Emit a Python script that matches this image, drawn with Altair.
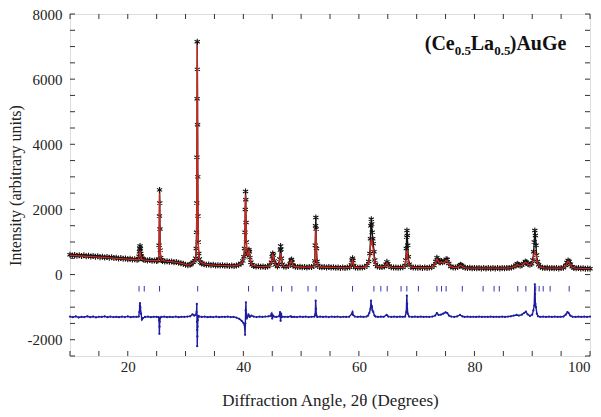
import altair as alt
import pandas as pd

# ---------------- data ----------------
obs_points = [
    (10.0, 610), (10.4, 585), (10.8, 600), (11.2, 575), (11.6, 595), (12.0, 570), (12.4, 590),
    (12.8, 560), (13.2, 580), (13.6, 555), (14.0, 570), (14.4, 545), (14.8, 560), (15.2, 535),
    (15.6, 550), (16.0, 525), (16.4, 540), (16.8, 515), (17.2, 530), (17.6, 505), (18.0, 520),
    (18.4, 495), (18.8, 505), (19.2, 485), (19.6, 495), (20.0, 470), (20.4, 485), (20.8, 460),
    (21.2, 470), (21.6, 455),
    (21.8, 470), (21.95, 560), (22.02, 700), (22.08, 820), (22.12, 880), (22.18, 790),
    (22.25, 650), (22.35, 560), (22.5, 500), (22.7, 460),
    (23.0, 450), (23.4, 435), (23.8, 445), (24.2, 425), (24.6, 435), (25.0, 420), (25.2, 430),
    (25.35, 480), (25.42, 900), (25.47, 1800), (25.5, 2600), (25.53, 2200), (25.57, 1400),
    (25.62, 750), (25.7, 520), (25.85, 450),
    (26.0, 420), (26.4, 400), (26.8, 410), (27.2, 390), (27.6, 400), (28.0, 375), (28.4, 385),
    (28.8, 360), (29.2, 345), (29.6, 330), (30.0, 300), (30.4, 290), (30.8, 300), (31.0, 330),
    (31.3, 380), (31.6, 420),
    (31.75, 500), (31.85, 800), (31.9, 1300), (31.94, 2200), (31.97, 3600), (32.0, 5400),
    (32.02, 7150), (32.05, 6300), (32.08, 4600), (32.11, 3000), (32.15, 1800), (32.2, 1000),
    (32.28, 650), (32.4, 480), (32.6, 380),
    (32.8, 340), (33.2, 320), (33.6, 300), (34.0, 310), (34.4, 290), (34.8, 300), (35.2, 280),
    (35.6, 290), (36.0, 275), (36.4, 285), (36.8, 270), (37.2, 280), (37.6, 265), (38.0, 275),
    (38.4, 265), (38.8, 280), (39.2, 300), (39.6, 340), (39.9, 420),
    (40.1, 550), (40.2, 800), (40.28, 1300), (40.34, 2000), (40.38, 2550), (40.42, 2300),
    (40.47, 1600), (40.53, 1000), (40.6, 700), (40.7, 620), (40.8, 650), (40.9, 720),
    (40.97, 760), (41.05, 700), (41.15, 520), (41.3, 380), (41.5, 300),
    (41.8, 260), (42.2, 245), (42.6, 255), (43.0, 240), (43.4, 250), (43.8, 235), (44.2, 250),
    (44.6, 290),
    (44.85, 380), (45.0, 550), (45.1, 650), (45.2, 600), (45.35, 420), (45.6, 300),
    (45.9, 250), (46.1, 300),
    (46.3, 480), (46.4, 750), (46.45, 880), (46.5, 780), (46.6, 500), (46.75, 320),
    (47.0, 250), (47.4, 240), (47.8, 260),
    (48.1, 330), (48.25, 440), (48.35, 460), (48.45, 380), (48.6, 280),
    (49.0, 240), (49.4, 230), (49.8, 240), (50.2, 225), (50.6, 235), (51.0, 220), (51.4, 235),
    (51.8, 230), (52.2, 260),
    (52.35, 420), (52.45, 900), (52.5, 1500), (52.55, 1750), (52.6, 1400), (52.66, 800),
    (52.75, 400), (52.9, 280),
    (53.2, 235), (53.6, 225), (54.0, 235), (54.4, 220), (54.8, 230), (55.2, 215), (55.6, 225),
    (56.0, 210), (56.4, 220), (56.8, 205), (57.2, 215), (57.6, 205), (58.0, 215), (58.4, 225),
    (58.7, 300), (58.82, 450), (58.9, 500), (58.98, 430), (59.1, 280),
    (59.4, 220), (59.8, 210), (60.2, 220), (60.6, 215), (61.0, 230), (61.4, 280), (61.7, 400),
    (61.9, 650), (62.0, 1100), (62.08, 1500), (62.15, 1700), (62.22, 1550), (62.3, 1300),
    (62.4, 1100), (62.5, 950), (62.6, 700), (62.75, 450), (62.9, 320),
    (63.2, 250), (63.6, 230), (64.0, 235), (64.4, 250),
    (64.7, 320), (64.85, 390), (65.0, 330), (65.2, 260),
    (65.6, 225), (66.0, 215), (66.4, 220), (66.8, 210), (67.2, 220), (67.6, 225), (68.0, 280),
    (68.1, 450), (68.2, 800), (68.26, 1150), (68.32, 1350), (68.38, 1200), (68.45, 900),
    (68.55, 550), (68.7, 320),
    (69.0, 230), (69.4, 215), (69.8, 220), (70.2, 210), (70.6, 215), (71.0, 205), (71.4, 215),
    (71.8, 205), (72.2, 215), (72.6, 225), (73.0, 280),
    (73.3, 400), (73.5, 520), (73.7, 460), (73.9, 380), (74.1, 380), (74.3, 420), (74.5, 380),
    (74.8, 400), (75.1, 470), (75.3, 460), (75.55, 340), (75.9, 250),
    (76.3, 220), (76.7, 215), (77.1, 230),
    (77.4, 270), (77.6, 300), (77.8, 280), (78.0, 240),
    (78.4, 210), (78.8, 200), (79.2, 210), (79.6, 195), (80.0, 205), (80.4, 195), (80.8, 205),
    (81.2, 190), (81.6, 200), (82.0, 190), (82.4, 200), (82.8, 190), (83.2, 200), (83.6, 190),
    (84.0, 200), (84.4, 190), (84.8, 200), (85.2, 195), (85.6, 205), (86.0, 200), (86.4, 215),
    (86.8, 240),
    (87.2, 290), (87.4, 330), (87.6, 300), (87.9, 270), (88.2, 290), (88.5, 340), (88.8, 400),
    (89.0, 380), (89.3, 320), (89.6, 300), (89.9, 330), (90.1, 450), (90.25, 700),
    (90.35, 1000), (90.45, 1350), (90.55, 1200), (90.65, 900), (90.75, 600), (90.9, 400),
    (91.1, 300), (91.4, 240),
    (91.8, 210), (92.2, 200), (92.6, 210), (93.0, 195), (93.4, 205), (93.8, 195), (94.2, 200),
    (94.6, 190), (95.0, 200), (95.4, 210), (95.8, 280),
    (96.0, 370), (96.2, 430), (96.4, 400), (96.6, 320), (96.9, 240),
    (97.2, 205), (97.6, 195), (98.0, 200), (98.4, 185), (98.8, 195), (99.2, 180), (99.6, 190),
    (100.0, 180),
]

calc_points = [
    (10, 590), (11, 580), (12, 570), (13, 560), (14, 550), (15, 538), (16, 525), (17, 512),
    (18, 500), (19, 487), (20, 475), (21, 462), (21.6, 455),
    (21.8, 455), (21.95, 520), (22.02, 600), (22.08, 680), (22.12, 700), (22.18, 660),
    (22.25, 580), (22.35, 520), (22.5, 470), (22.7, 450),
    (23.5, 438), (24.5, 428), (25.2, 425),
    (25.35, 470), (25.42, 1000), (25.47, 2000), (25.5, 2500), (25.53, 2350), (25.57, 1500),
    (25.62, 800), (25.7, 510), (25.85, 440),
    (26.5, 410), (27.5, 395), (28.5, 375), (29.5, 335), (30.2, 295), (30.8, 305), (31.3, 370),
    (31.6, 410),
    (31.75, 480), (31.85, 750), (31.9, 1200), (31.94, 2300), (31.97, 3900), (32.0, 5800),
    (32.02, 7050), (32.05, 6500), (32.08, 5100), (32.11, 3200), (32.15, 1800), (32.2, 950),
    (32.28, 620), (32.4, 470), (32.6, 380),
    (33.2, 325), (34, 305), (35, 290), (36, 280), (37, 275), (38, 270), (38.8, 278),
    (39.4, 310), (39.9, 400),
    (40.1, 520), (40.2, 780), (40.28, 1400), (40.34, 2200), (40.38, 2450), (40.42, 2350),
    (40.47, 1700), (40.53, 1050), (40.6, 700), (40.7, 600), (40.8, 620), (40.9, 690),
    (40.97, 740), (41.05, 690), (41.15, 510), (41.3, 370), (41.5, 290),
    (42.5, 250), (43.5, 242), (44.4, 260), (44.6, 285),
    (44.85, 370), (45.0, 560), (45.1, 620), (45.2, 580), (45.35, 400), (45.6, 290),
    (45.9, 255), (46.1, 290),
    (46.3, 450), (46.4, 620), (46.45, 660), (46.5, 620), (46.6, 460), (46.75, 310),
    (47.0, 250), (47.6, 245), (47.9, 260),
    (48.1, 320), (48.25, 420), (48.35, 430), (48.45, 360), (48.6, 270),
    (49.0, 240), (50, 232), (51, 227), (51.8, 232), (52.2, 255),
    (52.35, 400), (52.45, 850), (52.5, 1300), (52.55, 1400), (52.6, 1250), (52.66, 750),
    (52.75, 380), (52.9, 270),
    (53.4, 232), (54.5, 225), (55.5, 218), (56.5, 212), (57.5, 210), (58.3, 220), (58.5, 240),
    (58.7, 290), (58.82, 400), (58.9, 440), (58.98, 390), (59.1, 270),
    (59.4, 225), (60.2, 215), (61.0, 225), (61.4, 270), (61.7, 380),
    (61.9, 550), (62.0, 850), (62.08, 1000), (62.15, 1080), (62.22, 1050), (62.3, 950),
    (62.4, 850), (62.5, 750), (62.6, 580), (62.75, 400), (62.9, 300),
    (63.2, 250), (63.8, 232), (64.4, 250),
    (64.7, 300), (64.85, 360), (65.0, 310), (65.2, 250),
    (65.8, 220), (66.8, 213), (67.6, 222), (68.0, 270),
    (68.1, 400), (68.2, 600), (68.26, 700), (68.32, 720), (68.38, 680), (68.45, 560),
    (68.55, 420), (68.7, 290),
    (69.0, 232), (70, 215), (71, 210), (72, 210), (72.6, 222), (73.0, 270),
    (73.3, 380), (73.5, 480), (73.7, 430), (73.9, 360), (74.1, 360), (74.3, 390), (74.5, 360),
    (74.8, 380), (75.1, 440), (75.3, 430), (75.55, 320), (75.9, 240),
    (76.5, 218), (77.1, 228),
    (77.4, 260), (77.6, 285), (77.8, 265), (78.0, 230),
    (78.5, 207), (80, 200), (82, 196), (84, 195), (85.5, 200), (86.4, 212), (86.8, 235),
    (87.2, 280), (87.4, 320), (87.6, 290), (87.9, 260), (88.2, 280), (88.5, 330), (88.8, 380),
    (89.0, 360), (89.3, 310), (89.6, 290), (89.9, 320), (90.1, 420), (90.25, 560),
    (90.35, 650), (90.45, 700), (90.55, 680), (90.65, 600), (90.75, 480), (90.9, 360),
    (91.1, 290), (91.4, 230),
    (92, 205), (93.5, 198), (95, 198), (95.4, 208), (95.8, 270),
    (96.0, 350), (96.2, 410), (96.4, 380), (96.6, 300), (96.9, 230),
    (97.5, 200), (98.5, 190), (100, 183),
]

diff_points = [
    (10.0, -1290), (10.5, -1310), (11, -1285), (11.5, -1315), (12, -1295), (12.5, -1305),
    (13, -1280), (13.5, -1310), (14, -1290), (14.5, -1315), (15, -1295), (15.5, -1300),
    (16, -1285), (16.5, -1310), (17, -1290), (17.5, -1305), (18, -1295), (18.5, -1310),
    (19, -1290), (19.5, -1305), (20, -1285), (20.5, -1310), (21, -1295), (21.5, -1300),
    (21.9, -1290), (22.0, -1150), (22.08, -950), (22.12, -880), (22.18, -1000), (22.3, -1200),
    (22.45, -1380), (22.6, -1340), (23.0, -1300), (23.5, -1290), (24, -1310), (24.5, -1295),
    (25.0, -1300), (25.35, -1310), (25.42, -1400), (25.47, -1820), (25.5, -1600),
    (25.53, -1450), (25.6, -1330), (25.8, -1300), (26.3, -1290), (26.8, -1310), (27.3, -1295),
    (27.8, -1305), (28.3, -1290), (28.8, -1310), (29.3, -1295), (29.8, -1300), (30.3, -1290),
    (30.8, -1280), (31.2, -1220), (31.5, -1260), (31.8, -1230), (31.9, -1150), (31.95, -900),
    (31.98, -1450), (32.0, -1700), (32.02, -2200), (32.05, -1900), (32.08, -1600),
    (32.12, -1400), (32.2, -1270), (32.4, -1290), (32.8, -1300), (33.3, -1290), (33.8, -1310),
    (34.3, -1295), (34.8, -1305), (35.3, -1290), (35.8, -1310), (36.3, -1295), (36.8, -1300),
    (37.3, -1290), (37.8, -1305), (38.3, -1300), (38.8, -1320), (39.3, -1360), (39.7, -1420),
    (40.0, -1480), (40.2, -1550), (40.3, -1850), (40.35, -1500), (40.4, -1100), (40.45, -850),
    (40.5, -1200), (40.6, -1350), (40.75, -1280), (40.9, -1230), (41.1, -1300), (41.4, -1260),
    (41.8, -1290), (42.3, -1305), (42.8, -1290), (43.3, -1300), (43.8, -1290), (44.3, -1285),
    (44.7, -1270), (44.9, -1200), (45.0, -1350), (45.1, -1250), (45.3, -1290), (45.7, -1300),
    (46.2, -1280), (46.35, -1150), (46.45, -1420), (46.55, -1200), (46.7, -1300),
    (47.2, -1295), (47.7, -1300), (48.2, -1280), (48.4, -1300), (48.8, -1295), (49.3, -1305),
    (49.8, -1290), (50.3, -1300), (50.8, -1290), (51.3, -1305), (51.8, -1295), (52.3, -1290),
    (52.45, -1220), (52.52, -800), (52.58, -1050), (52.65, -1250), (52.8, -1300),
    (53.3, -1290), (53.8, -1300), (54.3, -1290), (54.8, -1305), (55.3, -1290), (55.8, -1300),
    (56.3, -1290), (56.8, -1305), (57.3, -1295), (57.8, -1300), (58.3, -1295), (58.8, -1200),
    (58.9, -1150), (59.0, -1240), (59.3, -1290), (59.8, -1300), (60.3, -1290), (60.8, -1300),
    (61.3, -1290), (61.6, -1260), (61.8, -1180), (62.0, -1050), (62.1, -800), (62.18, -1000),
    (62.25, -980), (62.35, -1100), (62.5, -1150), (62.7, -1260), (62.9, -1290), (63.3, -1300),
    (63.8, -1290), (64.3, -1295), (64.8, -1240), (65.1, -1290), (65.6, -1300), (66.1, -1290),
    (66.6, -1300), (67.1, -1290), (67.6, -1295), (68.0, -1290), (68.2, -1150), (68.3, -650),
    (68.35, -900), (68.45, -1200), (68.7, -1290), (69.2, -1300), (69.7, -1290), (70.2, -1300),
    (70.7, -1290), (71.2, -1300), (71.7, -1295), (72.2, -1300), (72.7, -1290), (73.2, -1260),
    (73.5, -1180), (73.8, -1240), (74.2, -1230), (74.6, -1200), (75.0, -1160), (75.3, -1180),
    (75.6, -1260), (76.0, -1290), (76.5, -1300), (77.0, -1285), (77.5, -1240), (77.9, -1280),
    (78.3, -1300), (78.8, -1290), (79.3, -1300), (79.8, -1295), (80.3, -1300), (80.8, -1290),
    (81.3, -1300), (81.8, -1295), (82.3, -1300), (82.8, -1290), (83.3, -1300), (83.8, -1295),
    (84.3, -1300), (84.8, -1290), (85.3, -1300), (85.8, -1290), (86.3, -1280), (86.8, -1260),
    (87.3, -1240), (87.7, -1260), (88.2, -1230), (88.6, -1180), (88.9, -1140), (89.2, -1220),
    (89.6, -1270), (90.0, -1230), (90.2, -1100), (90.35, -950), (90.45, -300), (90.5, -600),
    (90.55, -900), (90.65, -1000), (90.8, -1200), (91.0, -1280), (91.4, -1300), (91.9, -1290),
    (92.4, -1300), (92.9, -1290), (93.4, -1300), (93.9, -1290), (94.4, -1300), (94.9, -1295),
    (95.4, -1290), (95.8, -1230), (96.1, -1150), (96.3, -1180), (96.6, -1260), (97.0, -1295),
    (97.5, -1300), (98.0, -1290), (98.5, -1300), (99.0, -1290), (99.5, -1300), (100.0, -1290),
]

bragg_positions = [21.95, 22.85, 25.5, 32.1, 40.9, 45.1, 46.6, 48.4, 51.2, 52.6, 58.9, 62.6,
                   63.8, 64.9, 67.3, 68.3, 70.3, 73.5, 74.3, 75.1, 77.9, 81.5, 83.4, 84.3,
                   87.5, 88.9, 90.6, 91.2, 91.9, 93.1, 96.4]
bragg_top = -350
bragg_bottom = -520

x_label_values = [20, 40, 60, 80, 100]
y_label_values = [-2000, 0, 2000, 4000, 6000, 8000]
x_tick_values = list(range(10, 101, 5))
y_tick_values = list(range(-2500, 8001, 500))

title_parts = ["(Ce", "0.5", "La", "0.5", ")AuGe"]
title_anchor = (71.4, 6900)

# ---------------- chart ----------------
W, H = 520, 342
SERIF = "Liberation Serif"
xs = alt.Scale(domain=[10, 100], nice=False, zero=False)
ys = alt.Scale(domain=[-2500, 8000], nice=False, zero=False)

obs_df = pd.DataFrame(obs_points, columns=["tt", "v"])
calc_df = pd.DataFrame(calc_points, columns=["tt", "v"])
diff_df = pd.DataFrame(diff_points, columns=["tt", "v"])
bragg_df = pd.DataFrame({"tt": bragg_positions, "v": bragg_top, "v2": bragg_bottom})
xt_df = pd.DataFrame({"tt": x_tick_values})
yt_df = pd.DataFrame({"v": y_tick_values})

STAR = "M0,-1L0,1M-0.87,-0.5L0.87,0.5M-0.87,0.5L0.87,-0.5"

x_axis = alt.Axis(values=x_label_values, title="Diffraction Angle, 2θ (Degrees)", ticks=False,
                  domain=False, grid=False, labelFont=SERIF, labelFontSize=15,
                  labelColor="#222", labelPadding=3, titleFont=SERIF, titleFontSize=17,
                  titleFontWeight="normal", titleColor="#222", titlePadding=18)
y_axis = alt.Axis(values=y_label_values, title="Intensity (arbitrary units)", ticks=False,
                  domain=False, grid=False, labelFont=SERIF, labelFontSize=15,
                  labelColor="#222", labelPadding=8,
                  labelExpr="datum.value < 0 ? '-' + (-datum.value) : '' + datum.value",
                  titleFont=SERIF, titleFontSize=16, titleFontWeight="normal",
                  titleColor="#222", titlePadding=4)

X = alt.X("tt:Q", scale=xs, axis=x_axis, title="Diffraction Angle, 2θ (Degrees)")
Y = alt.Y("v:Q", scale=ys, axis=y_axis, title="Intensity (arbitrary units)")

obs_band = alt.Chart(obs_df).mark_line(color="#111", strokeWidth=1.3).encode(x=X, y=Y)
obs = alt.Chart(obs_df).mark_point(shape=STAR, filled=False, size=36, strokeWidth=1.1,
                                   color="#111", opacity=1).encode(x=X, y=Y)
calc = alt.Chart(calc_df).mark_line(color="#c8281e", strokeWidth=1.3).encode(x=X, y=Y)
diff_line = alt.Chart(diff_df).mark_line(color="#1c1ca0", strokeWidth=1.4).encode(x=X, y=Y)
diff_pts = alt.Chart(diff_df).mark_point(shape="circle", filled=True, size=5,
                                         color="#1c1ca0", opacity=1).encode(x=X, y=Y)
bragg = alt.Chart(bragg_df).mark_rule(color="#3535b0", strokeWidth=1).encode(
    x=X, y=Y, y2="v2:Q")

TICK = 5
tick_color = "#333"
xt_bottom = alt.Chart(xt_df).mark_rule(color=tick_color, strokeWidth=1).encode(
    x=X, y=alt.value(H), y2=alt.value(H - TICK))
xt_top = alt.Chart(xt_df).mark_rule(color=tick_color, strokeWidth=1).encode(
    x=X, y=alt.value(0), y2=alt.value(TICK))
yt_left = alt.Chart(yt_df).mark_rule(color=tick_color, strokeWidth=1).encode(
    y=Y, x=alt.value(0), x2=alt.value(TICK))
yt_right = alt.Chart(yt_df).mark_rule(color=tick_color, strokeWidth=1).encode(
    y=Y, x=alt.value(W - TICK), x2=alt.value(W))

ann_df = pd.DataFrame({"tt": [title_anchor[0]], "v": [title_anchor[1]]})
offsets = [(0, 0, 20), (30, 5, 13), (46, 0, 20), (69.5, 5, 13), (85, 0, 20)]
title_layers = []
for txt, (dx, dy, fs) in zip(title_parts, offsets):
    title_layers.append(
        alt.Chart(ann_df).mark_text(text=txt, font=SERIF, fontWeight="bold", fontSize=fs,
                                    align="left", baseline="alphabetic", dx=dx, dy=dy,
                                    color="#111").encode(x=X, y=Y)
    )

chart = alt.layer(
    obs_band, obs, calc, diff_line, diff_pts, bragg,
    xt_bottom, xt_top, yt_left, yt_right, *title_layers
).properties(
    width=W, height=H,
    autosize=alt.AutoSizeParams(type="none"),
    padding={"left": 62, "top": 6, "right": 3, "bottom": 58},
).configure_view(stroke="#333", strokeWidth=1.5).configure(background="white")

chart.save("out.html", embed_options={"renderer": "svg", "actions": False})
